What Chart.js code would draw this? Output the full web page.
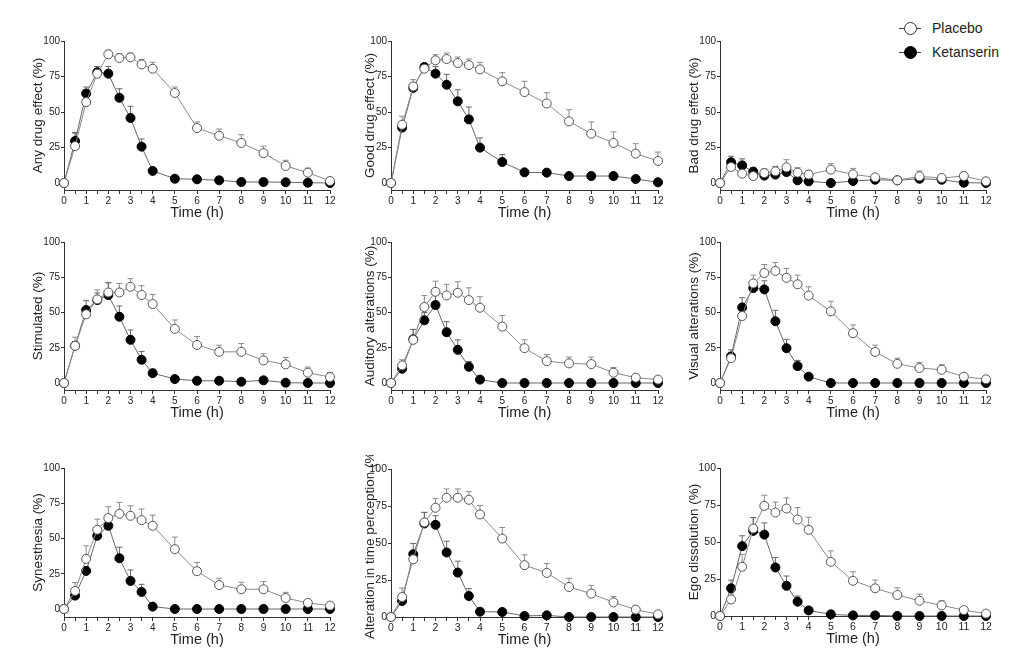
<!DOCTYPE html>
<html>
<head>
<meta charset="utf-8">
<script src="https://cdn.jsdelivr.net/npm/chart.js@4.4.1/dist/chart.umd.min.js"></script>
<style>
  body { margin: 0; background: #fff; width: 1024px; height: 660px; position: relative; overflow: hidden;
         font-family: "Liberation Sans", Arial, sans-serif; }
  canvas { position: absolute; }
  #legend { position: absolute; left: 898px; top: 16px; font-size: 14px; color: #222; }
  .item { position: relative; height: 24px; line-height: 24px; padding-left: 34px; white-space: nowrap; }
  .item .ln { position: absolute; left: 1px; top: 12px; width: 22px; height: 1px; background: #333; }
  .item .pt { position: absolute; left: 6px; top: 6px; width: 11px; height: 11px; border: 1px solid #333;
              border-radius: 50%; background: #fff; }
  .item .pt.fill { background: #000; border-color: #000; }
</style>
</head>
<body>
<div id="legend">
  <div class="item"><span class="ln"></span><span class="pt"></span>Placebo</div>
  <div class="item"><span class="ln"></span><span class="pt fill"></span>Ketanserin</div>
</div>
<script>
// sampling times (h)
const times = [0, 0.5, 1, 1.5, 2, 2.5, 3, 3.5, 4, 5, 6, 7, 8, 9, 10, 11, 12];
const yTicks = [0, 25, 50, 75, 100];
const xTitle = 'Time (h)';

// Any drug effect
const anyPla    = [0, 26, 57, 77, 90.6, 88, 88.5, 83.5, 80.5, 63.4, 38.7, 33.3, 28.2, 21, 12, 7.3, 1.4];
const anyPlaErr = [0, 9, 4, 5, 3, 3, 3, 3.5, 4.5, 4.2, 4.3, 4.7, 5.8, 5, 4, 3.2, 0];
const anyKet    = [0, 29.6, 63, 78, 77, 60, 45.8, 25.6, 8.5, 3, 2.6, 1.9, 0.7, 0.7, 0.5, 0.2, 0];
const anyKetErr = [0, 6, 4.6, 4, 5, 6.4, 8.2, 5.4, 1.5, 1, 1, 1, 0.5, 0.5, 0.5, 0.5, 0];

// Good drug effect
const goodPla    = [0, 41, 68, 80.5, 86.4, 87.3, 84.5, 83, 80, 71.6, 64, 56, 43.4, 34.7, 28.2, 20.7, 15.5];
const goodPlaErr = [0, 6, 4.8, 2.5, 4, 4.2, 4.2, 4.3, 5, 6.1, 7.6, 7.6, 8.2, 8.3, 7.8, 7, 6.3];
const goodKet    = [0, 39, 67, 81.7, 77, 69.2, 57.5, 44.8, 24.9, 14.8, 7.5, 7.3, 4.9, 4.9, 4.9, 2.8, 0.5];
const goodKetErr = [0, 2, 2, 2, 5, 7.3, 8.2, 8.7, 6.8, 5.2, 1.9, 2.3, 1.5, 1.5, 1.5, 1, 0.5];

// Bad drug effect
const badPla    = [0, 11.3, 6.6, 4.9, 7, 8.2, 11, 7.3, 5.9, 9.4, 6.1, 4, 1.9, 4.7, 3.5, 4.9, 1.2];
const badPlaErr = [0, 5.7, 3, 2.5, 3, 3.5, 5.4, 3.5, 3, 4.2, 4.2, 1.5, 1, 3.8, 1.5, 2.8, 1];
const badKet    = [0, 14.6, 12.4, 8, 5.2, 5.9, 7.7, 1.9, 1.2, 0, 1.4, 2.3, 1.9, 3, 2.3, 0.2, 0];
const badKetErr = [0, 4.2, 4.6, 2.8, 2.8, 5.4, 3, 1.5, 1, 0, 1, 1, 1, 1.5, 1, 0, 0];

// Stimulated
const stimPla    = [0, 26.4, 48.7, 59.3, 64.2, 64.2, 68.2, 62.4, 56, 38.4, 27, 22.1, 22.1, 16, 13.2, 7.3, 4.2];
const stimPlaErr = [0, 6.1, 4.9, 6.7, 7.1, 6.4, 5.8, 6.6, 6.8, 6.3, 6, 4.7, 5.9, 4.7, 4.9, 4, 3.3];
const stimKet    = [0, 26.4, 51.8, 58.8, 62.4, 47, 30.6, 16.5, 7, 2.8, 1.6, 1.6, 0.9, 1.9, 0.2, 0, 0];
const stimKetErr = [0, 3, 6.6, 5, 8.6, 7.6, 7, 5.9, 1.5, 1, 0.5, 0.5, 0.5, 1, 0, 0, 0];

// Auditory alterations
const audPla    = [0, 12.5, 30.6, 53.9, 64.7, 62.1, 64, 58.8, 53.4, 40, 24.7, 15.5, 13.9, 13.4, 7.3, 3.8, 2.4];
const audPlaErr = [0, 4, 7.4, 8.1, 7.5, 7.9, 7.8, 8.7, 7.8, 7.8, 5.9, 4.7, 4.5, 5, 3.7, 1.5, 0.5];
const audKet    = [0, 10.1, 31, 44.5, 55.3, 36, 23.5, 11.5, 2.4, 0, 0, 0, 0, 0, 0, 0, 0];
const audKetErr = [0, 2, 7, 5.5, 7.1, 7.5, 7.1, 3.8, 1.5, 0, 0, 0, 0, 0, 0, 0, 0];

// Visual alterations
const visPla    = [0, 17.6, 47.5, 70.6, 78, 79.5, 74.6, 70, 62, 50.8, 35.3, 22, 13.6, 10.6, 9.4, 4.5, 2.6];
const visPlaErr = [0, 4, 4.5, 5.9, 6, 5.9, 6.6, 6.5, 6.2, 7.2, 5.9, 4.8, 4, 4, 3.6, 1, 0.5];
const visKet    = [0, 18.8, 53.6, 67.3, 66.4, 43.8, 24.7, 12, 4.5, 0, 0, 0, 0, 0, 0, 0, 0];
const visKetErr = [0, 4.7, 6.9, 4.5, 6.1, 7.7, 6.3, 4, 1, 0, 0, 0, 0, 0, 0, 0, 0];

// Synesthesia
const synPla    = [0, 12.8, 35.5, 56.2, 64.5, 67.5, 66.1, 63, 59, 42.4, 26.8, 17, 14, 14, 7.8, 4.3, 2.4];
const synPlaErr = [0, 5.9, 9.3, 7.5, 8, 8.1, 7.1, 7.9, 7.6, 8.6, 6.2, 4.8, 5, 5.4, 4, 1.6, 0.5];
const synKet    = [0, 9.5, 27, 51.9, 59, 36, 19.9, 12.1, 1.7, 0, 0, 0, 0, 0, 0, 0, 0];
const synKetErr = [0, 1, 3, 5.1, 7, 7.8, 7.8, 5.4, 1, 0, 0, 0, 0, 0, 0, 0, 0];

// Alteration in time perception
const timePla    = [0, 13.5, 39, 63.9, 73.8, 80.6, 80.6, 79.2, 69.3, 53, 35, 29.8, 20.3, 15.8, 9.9, 5, 1.8];
const timePlaErr = [0, 6.1, 4.5, 6.8, 6.3, 5.9, 5.9, 5.5, 6.1, 7.5, 7, 6.3, 5.9, 5.6, 3.9, 2.2, 0.5];
const timeKet    = [0, 10.8, 42.4, 63.2, 62.3, 43.6, 30, 14.2, 3.6, 3.4, 0.7, 1.1, 0, 0, 0, 0, 0];
const timeKetErr = [0, 2, 7.3, 7.5, 6.1, 7.6, 7.7, 5, 1, 1, 0.5, 0.5, 0, 0, 0, 0, 0];

// Ego dissolution
const egoPla    = [0, 11.2, 33.3, 59.1, 74.4, 69.9, 72.6, 65.2, 58.2, 36.6, 23.8, 18.7, 14.2, 10.3, 7.2, 4, 1.6];
const egoPlaErr = [0, 4.5, 8.3, 7.4, 7.2, 7.1, 7.2, 8.1, 8.5, 7.4, 6.1, 5.6, 4.9, 4.5, 3.1, 1.6, 0.5];
const egoKet    = [0, 18.7, 47.2, 57.5, 55, 32.8, 20.4, 9.7, 3.8, 1.1, 0.4, 0.4, 0, 0, 0, 0, 0];
const egoKetErr = [0, 5.6, 7, 9, 7.9, 6.8, 6.6, 3.8, 1, 0.5, 0, 0, 0, 0, 0, 0, 0];

const panels = [
  { title: 'Any drug effect (%)', pla: anyPla, plaErr: anyPlaErr, ket: anyKet, ketErr: anyKetErr },
  { title: 'Good drug effect (%)', pla: goodPla, plaErr: goodPlaErr, ket: goodKet, ketErr: goodKetErr },
  { title: 'Bad drug effect (%)', pla: badPla, plaErr: badPlaErr, ket: badKet, ketErr: badKetErr },
  { title: 'Stimulated (%)', pla: stimPla, plaErr: stimPlaErr, ket: stimKet, ketErr: stimKetErr },
  { title: 'Auditory alterations (%)', pla: audPla, plaErr: audPlaErr, ket: audKet, ketErr: audKetErr },
  { title: 'Visual alterations (%)', pla: visPla, plaErr: visPlaErr, ket: visKet, ketErr: visKetErr },
  { title: 'Synesthesia (%)', pla: synPla, plaErr: synPlaErr, ket: synKet, ketErr: synKetErr },
  { title: 'Alteration in time perception (%)', pla: timePla, plaErr: timePlaErr, ket: timeKet, ketErr: timeKetErr },
  { title: 'Ego dissolution (%)', pla: egoPla, plaErr: egoPlaErr, ket: egoKet, ketErr: egoKetErr }
];

// layout of each panel in page pixels: L/R = x 0 and 12, T = y 100, Z = y 0, A = x-axis line, W = y-axis box width
const boxes = [
  { L: 64,  R: 330, T: 41,  Z: 183, A: 190, W: 34, fs: 10 },
  { L: 391, R: 658, T: 41,  Z: 183, A: 190, W: 29, fs: 10 },
  { L: 720, R: 986, T: 41,  Z: 183, A: 190, W: 34, fs: 10 },
  { L: 64,  R: 330, T: 242, Z: 383, A: 390, W: 34, fs: 10 },
  { L: 391, R: 658, T: 242, Z: 383, A: 390, W: 29, fs: 10 },
  { L: 720, R: 986, T: 242, Z: 383, A: 390, W: 34, fs: 10 },
  { L: 64,  R: 330, T: 468, Z: 609, A: 617, W: 34, fs: 10 },
  { L: 391, R: 658, T: 469, Z: 617, A: 617, W: 29, fs: 10.5 },
  { L: 720, R: 986, T: 468, Z: 616, A: 616, W: 34, fs: 10.5 }
];

const PAD_TOP = 14, PAD_RIGHT = 10, X_BOX = 32;
const axisColor = '#333';
const textColor = '#222';

// vertical error bars, upper side only
const errorBars = {
  id: 'errorBars',
  beforeDatasetsDraw(chart) {
    const ctx = chart.ctx, xs = chart.scales.x, ys = chart.scales.y;
    chart.data.datasets.forEach(ds => {
      ctx.save();
      ctx.strokeStyle = ds.errorColor;
      ctx.lineWidth = 1;
      ds.data.forEach((p, j) => {
        const e = ds.errors[j];
        if (!e) return;
        const x = xs.getPixelForValue(p.x);
        const y0 = ys.getPixelForValue(p.y);
        const y1 = ys.getPixelForValue(p.y + e);
        ctx.beginPath();
        ctx.moveTo(x, y0); ctx.lineTo(x, y1);
        ctx.moveTo(x - 3, y1); ctx.lineTo(x + 3, y1);
        ctx.stroke();
      });
      ctx.restore();
    });
  }
};

function toPoints(values) {
  return times.map((t, i) => ({ x: t, y: values[i] }));
}

panels.forEach((p, i) => {
  const b = boxes[i];
  const canvas = document.createElement('canvas');
  const w = b.W + (b.R - b.L) + PAD_RIGHT;
  const h = PAD_TOP + (b.A - b.T) + X_BOX;
  canvas.style.left = (b.L - b.W) + 'px';
  canvas.style.top = (b.T - PAD_TOP) + 'px';
  canvas.style.width = w + 'px';
  canvas.style.height = h + 'px';
  canvas.width = w; canvas.height = h;
  document.body.appendChild(canvas);

  const yMin = -(b.A - b.Z) / ((b.Z - b.T) / 100);

  new Chart(canvas, {
    type: 'line',
    data: {
      datasets: [
        {
          label: 'Placebo', data: toPoints(p.pla), errors: p.plaErr, errorColor: '#8c8c8c',
          borderColor: '#8a8a8a', borderWidth: 1, pointRadius: 4.5, pointBorderWidth: 1,
          pointBackgroundColor: '#fff', pointBorderColor: '#555', tension: 0, clip: false
        },
        {
          label: 'Ketanserin', data: toPoints(p.ket), errors: p.ketErr, errorColor: '#666',
          borderColor: '#666', borderWidth: 1, pointRadius: 4.5, pointBorderWidth: 1,
          pointBackgroundColor: '#000', pointBorderColor: '#000', tension: 0, clip: false
        }
      ]
    },
    options: {
      responsive: false,
      animation: false,
      events: [],
      layout: { padding: { top: PAD_TOP, right: PAD_RIGHT, left: 0, bottom: 0 } },
      plugins: { legend: { display: false }, tooltip: { enabled: false } },
      scales: {
        x: {
          type: 'linear', min: 0, max: 12,
          afterBuildTicks: s => { s.ticks = times.map(v => ({ value: v })); },
          afterFit: s => { s.height = X_BOX; },
          grid: { drawOnChartArea: false, drawTicks: true, tickLength: 4, color: axisColor },
          border: { display: true, color: axisColor, width: 1 },
          ticks: {
            autoSkip: false, maxRotation: 0, padding: 1, color: textColor,
            font: { family: 'Liberation Sans', size: b.fs },
            callback: v => Number.isInteger(v) ? String(v) : ''
          },
          title: { display: true, text: xTitle, color: textColor, padding: 0,
                   font: { family: 'Liberation Sans', size: 14.5 } }
        },
        y: {
          min: yMin, max: 100,
          afterBuildTicks: s => { s.ticks = yTicks.map(v => ({ value: v })); },
          afterFit: s => { s.width = b.W; },
          grid: { drawOnChartArea: false, drawTicks: true, tickLength: 3, color: axisColor },
          border: { display: true, color: axisColor, width: 1 },
          ticks: { padding: 1, color: textColor, font: { family: 'Liberation Sans', size: b.fs } },
          title: { display: true, text: p.title, color: textColor, padding: 0,
                   font: { family: 'Liberation Sans', size: 13.5 } }
        }
      }
    },
    plugins: [errorBars]
  });
});
</script>
</body>
</html>
